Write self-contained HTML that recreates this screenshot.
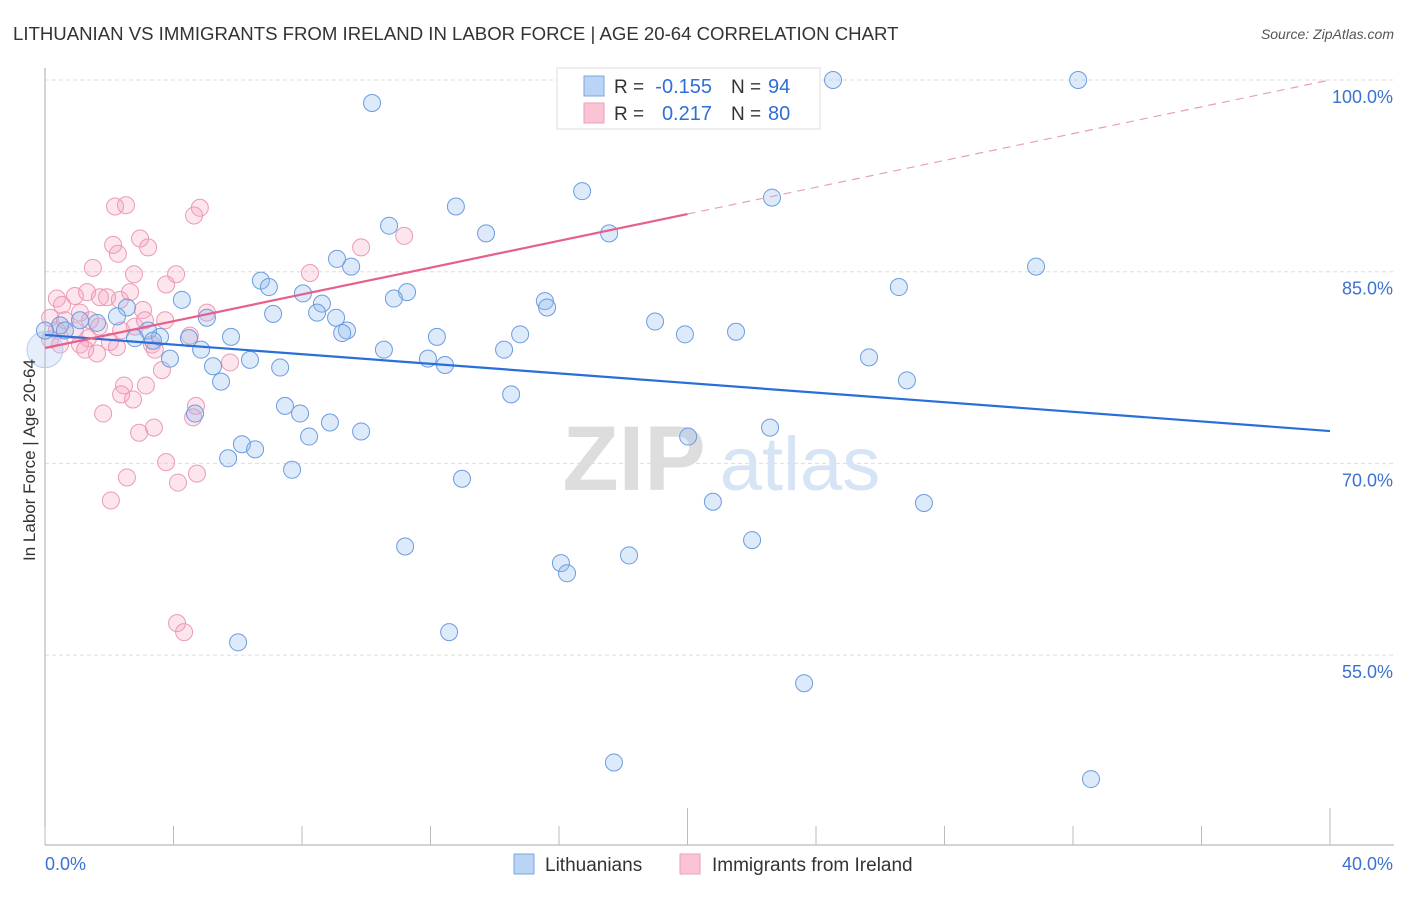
<!DOCTYPE html>
<html><head><meta charset="utf-8"><style>
body{margin:0;background:#fff;font-family:"Liberation Sans",sans-serif}
svg text{font-family:"Liberation Sans",sans-serif}
</style></head><body>
<svg width="1406" height="892" xmlns="http://www.w3.org/2000/svg">
<text x="13" y="40" font-size="18.6" fill="#333">LITHUANIAN VS IMMIGRANTS FROM IRELAND IN LABOR FORCE | AGE 20-64 CORRELATION CHART</text>
<text x="1394" y="39" font-size="14" fill="#555" text-anchor="end" font-style="italic">Source: ZipAtlas.com</text>
<g id="grid"></g>
<g><text x="634" y="490" font-size="92" fill="#ddd" font-family="Liberation Serif" text-anchor="middle" font-weight="bold">ZIP</text><text x="800" y="490" font-size="76" fill="#d6e4f5" text-anchor="middle">atlas</text></g>
<g id="axes"></g>
<g id="pts"></g>
<g id="lines"></g>
<text x="35" y="460" font-size="17" fill="#333" text-anchor="middle" transform="rotate(-90 35 460)">In Labor Force | Age 20-64</text>
<g>
<rect x="557" y="68" width="263" height="61" fill="#fff" stroke="#ddd"/>
<rect x="584" y="76" width="20" height="20" fill="#b9d4f5" stroke="#7aa6e3"/>
<rect x="584" y="103" width="20" height="20" fill="#fbc4d4" stroke="#eba0b8"/>
<text x="614" y="93" font-size="19" fill="#333">R =</text>
<text x="712" y="93" font-size="20" fill="#2f6fd6" text-anchor="end">-0.155</text>
<text x="731" y="93" font-size="19" fill="#333">N =</text>
<text x="768" y="93" font-size="20" fill="#2f6fd6">94</text>
<text x="614" y="120" font-size="19" fill="#333">R =</text>
<text x="712" y="120" font-size="20" fill="#2f6fd6" text-anchor="end">0.217</text>
<text x="731" y="120" font-size="19" fill="#333">N =</text>
<text x="768" y="120" font-size="20" fill="#2f6fd6">80</text>
</g>
<g>
<rect x="514" y="854" width="20" height="20" fill="#b9d4f5" stroke="#7aa6e3"/>
<text x="545" y="871" font-size="19" fill="#333">Lithuanians</text>
<rect x="680" y="854" width="20" height="20" fill="#fbc4d4" stroke="#eba0b8"/>
<text x="712" y="871" font-size="19" fill="#333">Immigrants from Ireland</text>
</g>
</svg>
<script>
const blueX=[10.18,24.53,32.16,16.72,22.63,12.79,10.71,13.73,17.56,9.09,9.53,30.85,6.72,6.97,26.58,8.03,11.27,10.86,4.26,15.56,8.62,15.63,8.47,7.10,9.06,5.04,18.99,2.55,2.24,1.62,1.09,0.47,3.21,9.40,9.25,5.79,12.20,14.79,19.92,21.51,2.80,3.58,3.36,4.48,10.55,14.29,4.86,3.89,11.92,12.45,5.23,6.38,7.32,25.65,5.48,26.83,14.51,4.67,7.47,7.94,8.87,9.84,22.57,8.22,20.02,6.13,6.54,5.70,7.69,12.98,20.79,27.36,22.01,11.21,18.18,16.06,16.25,6.01,12.58,23.63,17.71,32.56,0,0,0.62];
const blueY=[98.2,100,100,91.3,90.8,90.1,88.6,88.0,88.0,86.0,85.4,85.4,84.3,83.8,83.8,83.3,83.4,82.9,82.8,82.7,82.5,82.2,81.8,81.7,81.4,81.4,81.1,82.2,81.5,81.0,81.2,80.8,80.4,80.4,80.2,79.9,79.9,80.1,80.1,80.3,79.8,79.9,79.6,79.8,78.9,78.9,78.9,78.2,78.2,77.7,77.6,78.1,77.5,78.3,76.4,76.5,75.4,73.9,74.5,73.9,73.2,72.5,72.8,72.1,72.1,71.5,71.1,70.4,69.5,68.8,67.0,66.9,64.0,63.5,62.8,62.2,61.4,56.0,56.8,52.8,46.6,45.3,78.9,80.4,80.4];
const pinkX=[18.21,2.18,2.52,4.82,4.64,2.96,2.12,3.21,2.27,1.49,2.77,4.08,8.25,9.84,11.18,3.77,2.65,1.31,0.37,0.93,1.71,2.33,3.05,1.93,5.04,0.53,1.09,0.16,3.74,1.68,2.80,2.37,0.37,4.51,1.34,2.02,1.09,3.33,2.24,1.62,5.76,3.64,2.46,2.37,3.14,2.74,1.81,4.70,4.61,3.39,2.93,3.77,4.73,4.14,2.55,2.05,4.11,4.33,0.16,0.62,0.93,1.40,0.47,1.25,3.42,3.11];
const pinkY=[100,90.1,90.2,90.0,89.4,87.6,87.1,86.9,86.4,85.3,84.8,84.8,84.9,86.9,87.8,84.0,83.4,83.4,82.9,83.1,83.0,82.8,82.0,83.0,81.8,82.4,81.8,81.4,81.2,80.7,80.7,80.4,80.4,80.0,79.8,79.5,79.3,79.3,79.1,78.6,77.9,77.3,76.1,75.4,76.1,75.0,73.9,74.5,73.6,72.8,72.4,70.1,69.2,68.5,68.9,67.1,57.5,56.8,79.7,81.2,80.4,81.2,79.3,78.9,78.9,81.2];
const blueTrend=[80.05,72.53];
const pinkTrend=[79.03,89.51,100];
const yTicks=[100,85,70,55];
const yTickLabels=["100.0%","85.0%","70.0%","55.0%"];
const NS="http://www.w3.org/2000/svg";
const sx=v=>45+v*32.125, sy=v=>80+(100-v)*12.78;
function mk(t,a,p){const e=document.createElementNS(NS,t);for(const k in a)e.setAttribute(k,a[k]);p.appendChild(e);return e;}
const grid=document.getElementById('grid'),axes=document.getElementById('axes'),pts=document.getElementById('pts'),lines=document.getElementById('lines');
yTicks.forEach((v,i)=>{
 const l=mk('line',{x1:45,x2:1394,y1:sy(v),y2:sy(v),stroke:'#ddd','stroke-dasharray':'4 3'},grid);
 
 
 const t=mk('text',{x:1393,y:sy(v)+23,'font-size':18,fill:'#3a72d0','text-anchor':'end'},axes);t.textContent=yTickLabels[i];
 
 
});
mk('line',{x1:45,x2:45,y1:68,y2:845,stroke:'#aaa'},axes);
mk('line',{x1:45,x2:1394,y1:845,y2:845,stroke:'#aaa'},axes);
for(let i=0;i<=10;i++){const x=sx(i*4);mk('line',{x1:x,x2:x,y1:(i==5||i==10)?808:826,y2:845,stroke:'#bbb'},axes);}
const x0=mk('text',{x:45,y:870,'font-size':18,fill:'#3a72d0'},axes);x0.textContent='0.0%';


const x1=mk('text',{x:1393,y:870,'font-size':18,fill:'#3a72d0','text-anchor':'end'},axes);x1.textContent='40.0%';


pinkX.forEach((v,i)=>{const c=mk('circle',{cx:sx(v),cy:sy(pinkY[i]),r:8.5,fill:'rgba(245,160,190,0.28)',stroke:'#ec9ab5','stroke-width':1},pts);
 
 });
blueX.forEach((v,i)=>{const big=i==blueX.length-3;const c=mk('circle',{cx:sx(v),cy:sy(blueY[i]),r:big?18:8.5,fill:big?'rgba(170,200,240,0.3)':'rgba(150,190,240,0.32)',stroke:big?'#b5cdee':'#6b9ce0','stroke-width':1},pts);
 
 });
const bl=mk('line',{x1:sx(0),y1:sy(blueTrend[0]),x2:sx(40),y2:sy(blueTrend[1]),stroke:'#2a6ed8','stroke-width':2.2},lines);


const pl=mk('line',{x1:sx(0),y1:sy(pinkTrend[0]),x2:sx(20),y2:sy(pinkTrend[1]),stroke:'#e5608c','stroke-width':2.2},lines);


const pd=mk('line',{x1:sx(20),y1:sy(pinkTrend[1]),x2:sx(40),y2:sy(pinkTrend[2]),stroke:'#e7a0b8','stroke-width':1.2,'stroke-dasharray':'8 6'},lines);


</script>
</body></html>
